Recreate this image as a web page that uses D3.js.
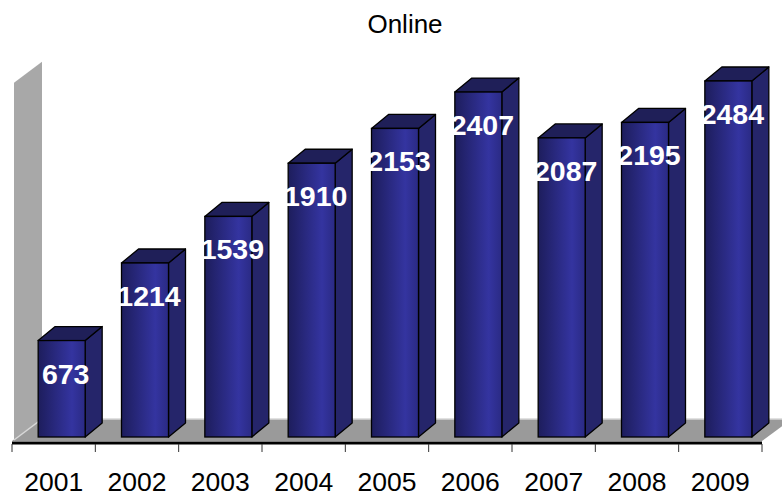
<!DOCTYPE html>
<html>
<head>
<meta charset="utf-8">
<script src="https://cdn.jsdelivr.net/npm/d3@7/dist/d3.min.js"></script>
<style>
  html, body { margin: 0; padding: 0; background: #fff; }
  svg { display: block; font-family: 'Liberation Sans', Arial, sans-serif; }
</style>
</head>
<body>
<div id="chart"></div>
<script>
// values
const years = ['2001', '2002', '2003', '2004', '2005', '2006', '2007', '2008', '2009']
const online = [673, 1214, 1539, 1910, 2153, 2407, 2087, 2195, 2484]
const title = 'Online'

const width = 782
const height = 498

// 3d look: floor depth and bar depth offsets
const floorDepth = { dx: 30, dy: -22 }
const barDepth = { dx: 17, dy: -14 }
const axisY = 441

const svg = d3.select('#chart').append('svg')
  .attr('width', width)
  .attr('height', height)

const defs = svg.append('defs')
const grad = defs.append('linearGradient')
  .attr('id', 'front')
  .attr('x1', 0).attr('x2', 1).attr('y1', 0).attr('y2', 0)
grad.append('stop').attr('offset', 0).attr('stop-color', '#1d1d5c')
grad.append('stop').attr('offset', 0.72).attr('stop-color', '#3434a0')
grad.append('stop').attr('offset', 1).attr('stop-color', '#2a2a84')

const x = d3.scaleBand()
  .domain(years)
  .range([12, 762])
  .paddingInner(0.436)
  .paddingOuter(0.218)

const y = d3.scaleLinear()
  .domain([0, 2500])
  .range([axisY, axisY - 358.3])

// bars stand half way into the floor depth
const shiftX = (floorDepth.dx - barDepth.dx) / 2 + 1.5
const shiftY = (floorDepth.dy - barDepth.dy) / 2

const line = d3.line()

// left wall
const wx0 = x.range()[0] + 2
svg.append('path')
  .attr('d', line([
    [wx0, axisY], [wx0, y(2500)],
    [wx0 + floorDepth.dx - 2, y(2500) + floorDepth.dy + 1], [wx0 + floorDepth.dx - 2, axisY + floorDepth.dy]
  ]) + 'Z')
  .attr('fill', '#a8a8a8')

// floor
const fx0 = x.range()[0]
const fx1 = x.range()[1]
svg.append('path')
  .attr('d', line([
    [fx0, axisY], [fx1, axisY],
    [fx1 + floorDepth.dx, axisY + floorDepth.dy], [fx0 + floorDepth.dx, axisY + floorDepth.dy]
  ]) + 'Z')
  .attr('fill', '#9a9a9a')
svg.append('path')
  .attr('d', line([[fx0 + 2, axisY - 1], [fx0 + floorDepth.dx, axisY + floorDepth.dy], [fx1 + floorDepth.dx, axisY + floorDepth.dy]]))
  .attr('fill', 'none')
  .attr('stroke', '#d8d8d8')
  .attr('stroke-width', 1.5)

// bars
const bars = svg.append('g').attr('class', 'bars')
  .selectAll('g')
  .data(years.map((yr, i) => ({ yr, v: online[i] })))
  .join('g')

const bw = x.bandwidth()
bars.each(function (d) {
  const g = d3.select(this)
  const x0 = x(d.yr) + shiftX
  const x1 = x0 + bw
  const yb = y(0) + shiftY
  const yt = y(d.v) + shiftY
  const { dx, dy } = barDepth
  // side
  g.append('path')
    .attr('d', line([[x1, yt], [x1 + dx, yt + dy], [x1 + dx, yb + dy], [x1, yb]]) + 'Z')
    .attr('fill', '#25256a')
    .attr('stroke', '#000')
    .attr('stroke-width', 1.3)
    .attr('stroke-linejoin', 'round')
  // top
  g.append('path')
    .attr('d', line([[x0, yt], [x0 + dx, yt + dy], [x1 + dx, yt + dy], [x1, yt]]) + 'Z')
    .attr('fill', '#1f1f58')
    .attr('stroke', '#000')
    .attr('stroke-width', 1.3)
    .attr('stroke-linejoin', 'round')
  // front
  g.append('rect')
    .attr('x', x0).attr('y', yt)
    .attr('width', bw).attr('height', yb - yt)
    .attr('fill', 'url(#front)')
    .attr('stroke', '#000')
    .attr('stroke-width', 1.3)
  // value label
  g.append('text')
    .attr('x', x0 + bw / 2 + 4)
    .attr('y', yt + 43)
    .attr('text-anchor', 'middle')
    .attr('fill', '#fff')
    .attr('font-weight', 'bold')
    .attr('font-size', 28.5)
    .text(d.v)
})

// axis line and category ticks on band edges
svg.append('line')
  .attr('x1', fx0).attr('x2', fx1)
  .attr('y1', axisY + 2).attr('y2', axisY + 2)
  .attr('stroke', '#000')
  .attr('stroke-width', 3)

svg.append('g')
  .selectAll('line')
  .data(d3.range(years.length + 1))
  .join('line')
  .attr('x1', i => fx0 + i * x.step())
  .attr('x2', i => fx0 + i * x.step())
  .attr('y1', axisY + 3)
  .attr('y2', axisY + 11)
  .attr('stroke', '#333')
  .attr('stroke-width', 1)

const axis = svg.append('g')
  .attr('transform', `translate(0,${axisY + 2})`)
  .call(d3.axisBottom(x).tickSize(0).tickPadding(29))
axis.select('.domain').remove()
axis.selectAll('text')
  .attr('font-size', 26.5)
  .attr('font-family', "'Liberation Sans', Arial, sans-serif")
  .attr('fill', '#000')

// title
svg.append('text')
  .attr('x', 405)
  .attr('y', 33)
  .attr('text-anchor', 'middle')
  .attr('font-size', 26)
  .text(title)
</script>
</body>
</html>
